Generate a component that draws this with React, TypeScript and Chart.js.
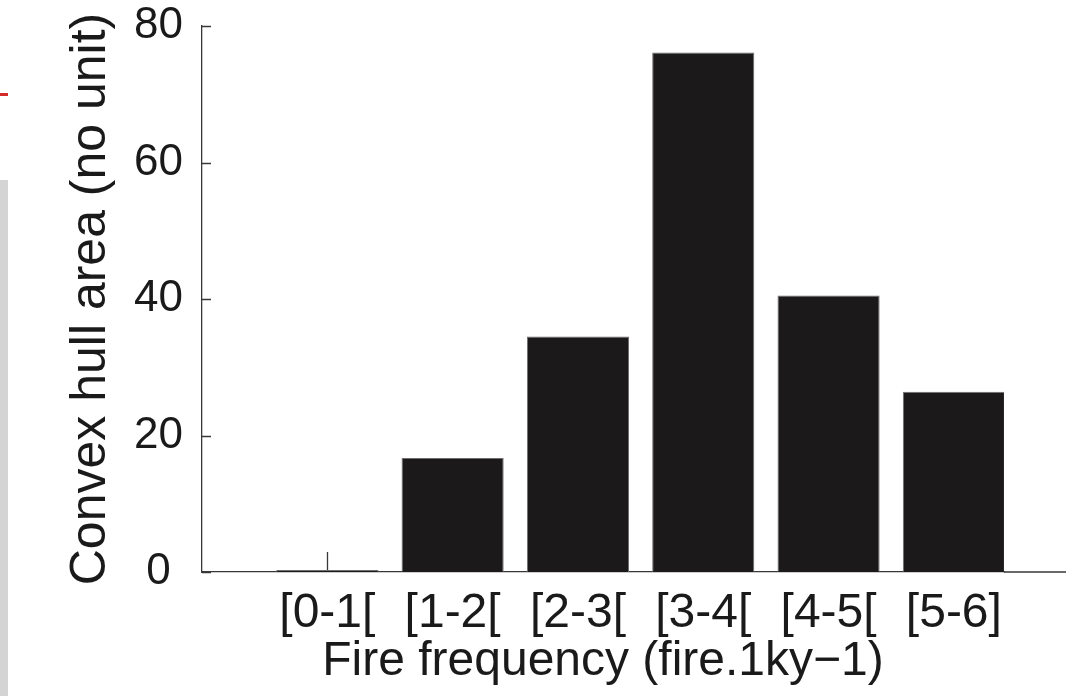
import React, { useEffect, useRef } from "react";
import { Chart, registerables } from "chart.js";

Chart.register(...registerables);

const categories = ["[0-1[", "[1-2[", "[2-3[", "[3-4[", "[4-5[", "[5-6]"];
const positions = [1, 2, 3, 4, 5, 6];
const hullArea = [0.3, 16.7, 34.5, 76.1, 40.5, 26.4];
const yTickValues = [0, 20, 40, 60, 80];
const xTitle = "Fire frequency (fire.1ky\u22121)";
const yTitle = "Convex hull area (no unit)";

const FONT = "'Liberation Sans', Arial, Helvetica, sans-serif";
const TEXT = "#1a1a1a";
const AXIS = "#383838";

const inwardTicks = {
  id: "inwardTicks",
  beforeDatasetsDraw(chart: any) {
    const { ctx, chartArea, scales, width } = chart;
    ctx.save();
    ctx.strokeStyle = AXIS;
    ctx.lineWidth = 1.3;
    ctx.beginPath();
    positions.forEach((p) => {
      const x = Math.round(scales.x.getPixelForValue(p)) + 0.5;
      ctx.moveTo(x, chartArea.bottom);
      ctx.lineTo(x, chartArea.bottom - 20);
    });
    // axis line continues past the axes box to the picture edge
    ctx.moveTo(chartArea.right, chartArea.bottom);
    ctx.lineTo(width, chartArea.bottom);
    ctx.stroke();
    ctx.restore();
  },
  afterDatasetsDraw(chart: any) {
    const { ctx, chartArea, scales } = chart;
    ctx.save();
    ctx.strokeStyle = AXIS;
    ctx.lineWidth = 1.3;
    ctx.beginPath();
    yTickValues.forEach((v) => {
      const y = Math.round(scales.y.getPixelForValue(v)) + 0.5;
      ctx.moveTo(chartArea.left, y);
      ctx.lineTo(chartArea.left + 9, y);
    });
    ctx.stroke();
    ctx.restore();
  },
};

export default function App() {
  const ref = useRef<HTMLCanvasElement | null>(null);

  useEffect(() => {
    if (!ref.current) return;
    const chart = new Chart(ref.current, {
      type: "bar",
      data: {
        datasets: [
          {
            label: "Convex hull area",
            data: positions.map((p, i) => ({ x: p, y: hullArea[i] })),
            backgroundColor: "#1b1919",
            borderColor: "#6e6e6e",
            borderWidth: 1,
            barPercentage: 0.815,
            categoryPercentage: 1,
          },
        ],
      },
      options: {
        responsive: false,
        animation: false,
        events: [],
        layout: { padding: { top: 26, left: 0, right: 62, bottom: 0 } },
        plugins: {
          legend: { display: false },
          tooltip: { enabled: false },
        },
        scales: {
          x: {
            type: "linear",
            min: 0,
            max: 6.4,
            offset: false,
            afterBuildTicks: (scale: any) => {
              scale.ticks = positions.map((v) => ({ value: v }));
            },
            afterFit: (scale: any) => {
              scale.height = 124;
              scale.paddingLeft = 0;
              scale.paddingRight = 0;
            },
            grid: { display: false, drawTicks: false },
            border: { display: true, color: AXIS, width: 1.3 },
            ticks: {
              autoSkip: false,
              maxRotation: 0,
              padding: 13,
              color: TEXT,
              font: { family: FONT, size: 48 },
              callback: (v: any) => {
                const i = positions.indexOf(Number(v));
                return i >= 0 ? categories[i] : "";
              },
            },
            title: {
              display: true,
              text: xTitle,
              color: TEXT,
              font: { family: FONT, size: 48, lineHeight: 1 },
              padding: { top: 0, bottom: 10 },
            },
          },
          y: {
            min: 0,
            max: 80,
            afterBuildTicks: (scale: any) => {
              scale.ticks = yTickValues.map((v) => ({ value: v }));
            },
            afterFit: (scale: any) => {
              scale.width = 202;
              scale.paddingTop = 0;
              scale.paddingBottom = 0;
            },
            grid: { display: false, drawTicks: false },
            border: { display: true, color: AXIS, width: 1.3 },
            ticks: {
              padding: 19,
              crossAlign: "center",
              color: TEXT,
              font: { family: FONT, size: 44 },
            },
            title: {
              display: true,
              text: yTitle,
              color: TEXT,
              font: { family: FONT, size: 50, lineHeight: 1 },
              padding: { top: 66, bottom: 0 },
            },
          },
        },
      },
      plugins: [inwardTicks],
    } as any);
    return () => chart.destroy();
  }, []);

  return (
    <div
      style={{
        position: "fixed",
        left: 0,
        top: 0,
        width: 1066,
        height: 696,
        background: "#ffffff",
        overflow: "hidden",
      }}
    >
      <canvas
        ref={ref}
        width={1066}
        height={696}
        style={{ position: "absolute", left: 0, top: 0, display: "block" }}
      />
      <div
        style={{
          position: "absolute",
          left: 0,
          top: 180,
          width: 8,
          height: 516,
          background: "#d4d4d4",
        }}
      />
      <div
        style={{
          position: "absolute",
          left: 0,
          top: 93,
          width: 8,
          height: 3,
          background: "#d42a2a",
        }}
      />
    </div>
  );
}
